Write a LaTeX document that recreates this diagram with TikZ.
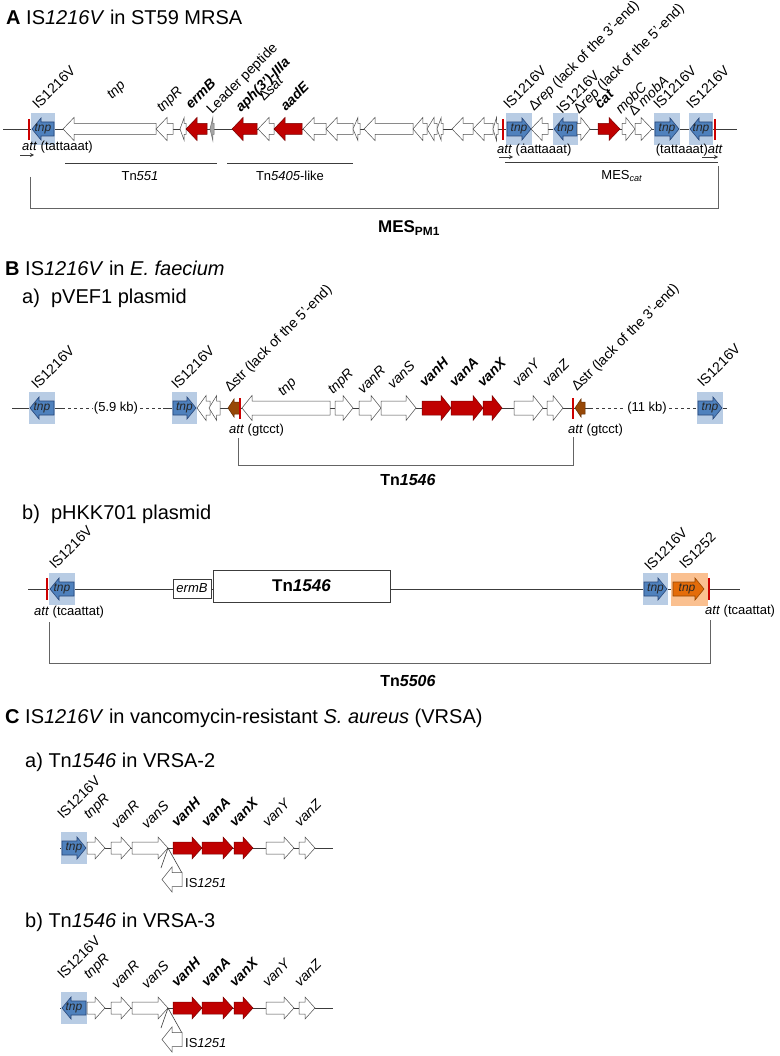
\documentclass[tikz,border=0pt]{standalone}
\usepackage{fontspec}
\setmainfont{Liberation Sans}
\usetikzlibrary{arrows.meta}
\definecolor{bluebg}{RGB}{184,204,228}
\definecolor{bluefill}{RGB}{79,129,189}
\definecolor{bluedark}{RGB}{40,70,120}
\definecolor{genered}{RGB}{192,0,0}
\definecolor{reddark}{RGB}{120,0,0}
\definecolor{barred}{RGB}{204,0,0}
\definecolor{brownfill}{RGB}{151,72,7}
\definecolor{browndark}{RGB}{100,45,0}
\definecolor{orangebg}{RGB}{250,192,144}
\definecolor{orangefill}{RGB}{228,108,10}
\definecolor{orangedark}{RGB}{150,70,0}
\definecolor{linegray}{RGB}{60,60,60}
\definecolor{brkgray}{RGB}{100,100,100}
\newcommand\fs[1]{\fontsize{#1}{#1}\selectfont}
\tikzset{
  bb/.style={draw=linegray, line width=0.6pt},
  brk/.style={draw=brkgray, line width=0.8pt},
  wg/.style={fill=white, draw=black!70, line width=0.5pt},
  rg/.style={fill=genered, draw=reddark, line width=0.5pt},
  gg/.style={fill=black!35, draw=black!55, line width=0.5pt},
  brg/.style={fill=brownfill, draw=browndark, line width=0.5pt},
  og/.style={fill=orangefill, draw=orangedark, line width=0.6pt},
  isarrow/.style={fill=bluefill, draw=bluedark, line width=0.6pt},
  blab/.style={font=\fs{13}, inner sep=0pt},
  rlab/.style={rotate=45, anchor=base west, inner sep=0pt, font=\fs{14}},
  inlab/.style={font=\fs{12}\itshape, inner sep=0pt, text=black!85},
  ttl/.style={anchor=west, inner sep=0pt, font=\fs{20}},
  attarrow/.style={draw=linegray, line width=0.6pt, -{Stealth[length=4pt,width=4pt]}},
}
\def\sh{5.5}\def\hh{11.5}\def\hlen{11}
\newcommand\gene[5]{%
  \pgfmathsetmacro\gL{min(\hlen,0.7*((#2)-(#1)))}%
  \ifnum#4>0\relax
    \draw[#5] (#1,#3-\sh) -- (#2-\gL,#3-\sh) -- (#2-\gL,#3-\hh) -- (#2,#3) -- (#2-\gL,#3+\hh) -- (#2-\gL,#3+\sh) -- (#1,#3+\sh) -- cycle;
  \else
    \draw[#5] (#2,#3-\sh) -- (#1+\gL,#3-\sh) -- (#1+\gL,#3-\hh) -- (#1,#3) -- (#1+\gL,#3+\hh) -- (#1+\gL,#3+\sh) -- (#2,#3+\sh) -- cycle;
  \fi}
\newcommand\isbox[5]{%
  \fill[bluebg] (#1,#3-16) rectangle (#2,#3+16);
  \begingroup\def\sh{7}\def\hh{11}\def\hlen{9}\gene{#1+1}{#2-1}{#3}{#4}{isarrow}\endgroup
  \node[inlab] (#5) at ({(#1+#2)/2},#3) {tnp};}
\newcommand\rbar[3]{\draw[barred, line width=2.6pt] (#1,#2) -- (#1,#3);}
\newcounter{rlc}
\newcommand\rl[3]{\stepcounter{rlc}\node[rlab] (rl\arabic{rlc}) at (#1,#2) {#3};}
\newcommand\vrsa[3]{% #1 y, #2 direction of IS, #3 prefix
  \draw[bb] (60,#1) -- (333,#1);
  \isbox{61}{87}{#1}{#2}{#3is}
  \begingroup\def\sh{6}\def\hh{11}\def\hlen{10}
  \gene{87}{105}{#1}{1}{wg}
  \gene{111}{131}{#1}{1}{wg}
  \gene{132}{168}{#1}{1}{wg}
  \gene{173}{202}{#1}{1}{rg}
  \gene{202}{233}{#1}{1}{rg}
  \gene{234}{253}{#1}{1}{rg}
  \gene{266}{294}{#1}{1}{wg}
  \gene{299}{315}{#1}{1}{wg}
  \draw[bb] (168,#1) -- (161,#1+20);
  \draw[bb] (168,#1) -- (182,#1+25);
  \def\sh{7}\def\hh{12.5}
  \gene{162}{182}{#1+31.5}{-1}{wg}
  \endgroup
  \node[blab, anchor=west] (#3ins) at (185,#1+35) {IS\textit{1251}};
  \rl{63}{#1-28}{IS1216V}
  \rl{89}{#1-28}{\textit{tnpR}}
  \rl{117}{#1-18}{\textit{vanR}}
  \rl{147}{#1-18}{\textit{vanS}}
  \rl{177}{#1-20}{\textbf{\textit{vanH}}}
  \rl{207}{#1-20}{\textbf{\textit{vanA}}}
  \rl{235}{#1-20}{\textbf{\textit{vanX}}}
  \rl{268}{#1-20}{\textit{vanY}}
  \rl{300}{#1-20}{\textit{vanZ}}
}
\begin{document}
\begin{tikzpicture}[x=1pt,y=-1pt]
\useasboundingbox (0,0) rectangle (779,1056);
\fill[white] (0,0) rectangle (779,1056);

% ================= A =================
\node[ttl] (tA) at (6,17) {\textbf{A} IS\textit{1216V} in ST59 MRSA};
\draw[bb] (3,129) -- (737,129);
\isbox{31}{55}{129}{-1}{a1}
\gene{63}{156}{129}{-1}{wg}
\gene{156}{173}{129}{-1}{wg}
\gene{180}{186}{129}{-1}{wg}
\gene{186}{207}{129}{-1}{rg}
\gene{210}{214}{129}{-1}{gg}
\gene{232}{257}{129}{-1}{rg}
\gene{258}{274}{129}{-1}{wg}
\gene{274}{302}{129}{-1}{rg}
\gene{303}{326}{129}{-1}{wg}
\gene{326}{353}{129}{-1}{wg}
\gene{353}{360}{129}{-1}{wg}
\gene{364}{413}{129}{-1}{wg}
\gene{413}{427}{129}{-1}{wg}
\gene{427}{437}{129}{-1}{wg}
\gene{437}{443}{129}{-1}{wg}
\gene{452}{473}{129}{-1}{wg}
\gene{473}{493}{129}{-1}{wg}
\gene{493}{498}{129}{-1}{wg}
\isbox{506}{532}{129}{1}{a2}
\gene{531}{548}{129}{-1}{wg}
\isbox{553}{578}{129}{-1}{a3}
\gene{577}{590}{129}{1}{wg}
\gene{598}{620}{129}{1}{rg}
\gene{622}{635}{129}{1}{wg}
\gene{635}{652}{129}{1}{wg}
\isbox{654}{680}{129}{1}{a4}
\isbox{689}{713}{129}{-1}{a5}
\rbar{29}{119}{140}
\rbar{503}{119}{140}
\rbar{715}{119}{140}

\rl{38}{110}{IS1216V}
\rl{112}{100}{\textit{tnp}}
\rl{162}{113}{\textit{tnpR}}
\rl{191}{110}{\textbf{\textit{ermB}}}
\rl{212}{115}{Leader peptide}
\rl{241}{113}{\textbf{\textit{aph(3')-IIIa}}}
\rl{264}{102}{Δ\textit{sat}}
\rl{286}{112}{\textbf{\textit{aadE}}}
\rl{509}{110}{IS1216V}
\rl{534}{112}{Δ\textit{rep} (lack of the 3'-end)}
\rl{562}{115}{IS1216V}
\rl{579}{115}{Δ\textit{rep} (lack of the 5'-end)}
\rl{600}{110}{\textbf{\textit{cat}}}
\rl{621}{115}{\textit{mobC}}
\rl{634}{117}{Δ \textit{mobA}}
\rl{659}{110}{IS1216V}
\rl{692}{110}{IS1216V}

\node[blab, anchor=west] (attA1) at (22,147) {\textit{att} (tattaaat)};
\coordinate (aa1) at (20,155); \coordinate (aa2) at (34,155);
\draw[attarrow] (aa1) -- (aa2);
\node[blab, anchor=west] (attA2) at (497,150) {\textit{att} (\.{a}attaaat)};
\coordinate (ab1) at (499,157); \coordinate (ab2) at (513,157);
\draw[attarrow] (ab1) -- (ab2);
\node[blab, anchor=east] (attA3) at (723,150) {(tattaaat)\textit{att}};
\coordinate (ac1) at (702,157); \coordinate (ac2) at (718,157);
\draw[attarrow] (ac1) -- (ac2);

\draw[bb] (65,163) -- (217,163);
\node[blab] (tn551) at (140,176) {Tn\textit{551}};
\draw[bb] (227,163) -- (353,163);
\node[blab] (tn5405) at (290,176) {Tn\textit{5405}-like};
\draw[bb] (505,162) -- (718,162);
\node[blab] (mescat) at (622,176) {MES\textsubscript{\textit{cat}}};
\draw[brk] (30,177) -- (30,208) -- (718,208) -- (718,166);
\node[inner sep=0pt, font=\fs{17}\bfseries] (mespm1) at (409,228) {MES\textsubscript{PM1}};

% ================= B =================
\node[ttl] (tB) at (5,268) {\textbf{B} IS\textit{1216V} in \textit{E. faecium}};
\node[ttl] (tBa) at (22,298) {a)\ \ pVEF1 plasmid};

\draw[bb] (12,408) -- (62,408);
\draw[bb, dashed] (62,408) -- (93,408);
\node[blab] (kb59) at (116,408) {(5.9 kb)};
\draw[bb, dashed] (140,408) -- (163,408);
\draw[bb] (163,408) -- (590,408);
\draw[bb, dashed] (590,408) -- (624,408);
\node[blab] (kb11) at (647,408) {(11 kb)};
\draw[bb, dashed] (669,408) -- (697,408);
\draw[bb] (697,408) -- (727,408);

\isbox{29}{55}{408}{-1}{b1}
\isbox{172}{197}{408}{1}{b2}
\isbox{697}{723}{408}{1}{b3}
\begingroup\def\sh{7}\def\hh{12.5}\def\hlen{10}
\gene{197}{210}{408}{-1}{wg}
\gene{209}{220}{408}{-1}{wg}
\gene{242}{330}{408}{-1}{wg}
\gene{335}{353}{408}{1}{wg}
\gene{359}{381}{408}{1}{wg}
\gene{381}{416}{408}{1}{wg}
\gene{422}{451}{408}{1}{rg}
\gene{451}{483}{408}{1}{rg}
\gene{483}{502}{408}{1}{rg}
\gene{514}{543}{408}{1}{wg}
\gene{547}{563}{408}{1}{wg}
\def\sh{6}\def\hh{9}\def\hlen{6}
\gene{228}{240}{408}{-1}{brg}
\gene{575}{585}{408}{-1}{brg}
\endgroup
\rbar{240}{398}{419}
\rbar{573}{398}{419}

\rl{37}{390}{IS1216V}
\rl{177}{390}{IS1216V}
\rl{230}{393}{Δstr (lack of the 5'-end)}
\rl{283}{397}{\textit{tnp}}
\rl{333}{395}{\textit{tnpR}}
\rl{363}{395}{\textit{vanR}}
\rl{393}{390}{\textit{vanS}}
\rl{425}{388}{\textbf{\textit{vanH}}}
\rl{455}{388}{\textbf{\textit{vanA}}}
\rl{483}{388}{\textbf{\textit{vanX}}}
\rl{518}{388}{\textit{vanY}}
\rl{548}{388}{\textit{vanZ}}
\rl{577}{392}{Δstr (lack of the 3'-end)}
\rl{703}{388}{IS1216V}

\node[blab, anchor=west] (attB1) at (229,430) {\textit{att} (gtcct)};
\node[blab, anchor=west] (attB2) at (568,430) {\textit{att} (gtcct)};
\draw[brk] (238,438) -- (238,465) -- (573,465) -- (573,437);
\node[inner sep=0pt, font=\fs{16}\bfseries] (tn1546a) at (408,480) {Tn\textit{1546}};

% ---- B b
\node[ttl] (tBb) at (22,514) {b)\ \ pHKK701 plasmid};
\draw[bb] (28,589) -- (740,589);
\isbox{49}{75}{589}{-1}{c1}
\node[draw=linegray, line width=0.8pt, fill=white, minimum width=38pt, minimum height=19pt, inner sep=0pt, font=\fs{13}\itshape] (ermBbox) at (192,588.5) {ermB};
\node[draw=linegray, line width=0.9pt, fill=white, minimum width=177pt, minimum height=32pt, inner sep=0pt, font=\fs{17}\bfseries] (tnbox) at (301.5,586) {Tn\textit{1546}};
\isbox{643}{668}{589}{1}{c2}
\fill[orangebg] (671,573) rectangle (708,606);
\begingroup\def\sh{7}\def\hh{11}\def\hlen{9}\gene{673}{704}{589}{1}{og}\endgroup
\node[inlab] (orangetnp) at (687,589) {tnp};
\rbar{47}{578}{600}
\rbar{709}{578}{600}
\rl{55}{570}{IS1216V}
\rl{650}{572}{IS1216V}
\rl{685}{570}{IS1252}
\node[blab, anchor=west] (attC1) at (34,612) {\textit{att} (tcaattat)};
\node[blab, anchor=west] (attC2) at (705,611) {\textit{att} (tcaattat)};
\draw[brk] (49,622) -- (49,663) -- (710,663) -- (710,620);
\node[inner sep=0pt, font=\fs{16}\bfseries] (tn5506) at (408,681) {Tn\textit{5506}};

% ================= C =================
\node[ttl] (tC) at (5,718) {\textbf{C} IS\textit{1216V} in vancomycin-resistant \textit{S. aureus} (VRSA)};
\node[ttl] (tCa) at (25,762) {a) Tn\textit{1546} in VRSA-2};
\vrsa{848}{1}{ca}
\node[ttl] (tCb) at (25,922) {b) Tn\textit{1546} in VRSA-3};
\vrsa{1008}{-1}{cb}
\end{tikzpicture}
\end{document}
